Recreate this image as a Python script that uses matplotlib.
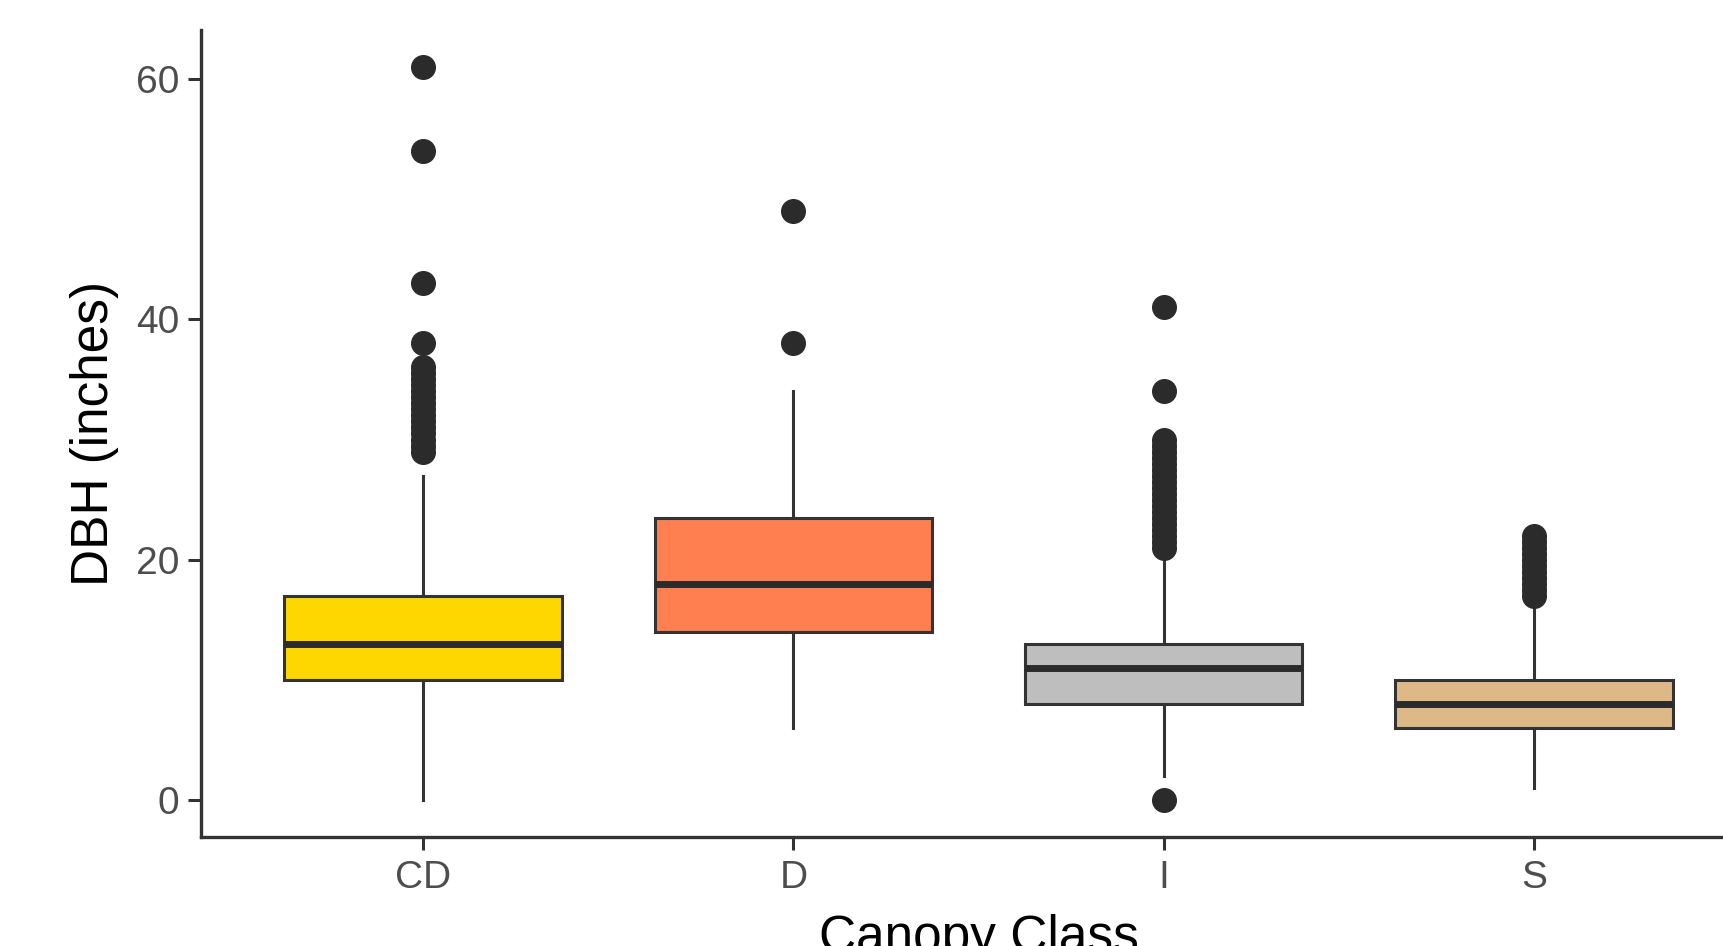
import numpy as np
import matplotlib
matplotlib.use("Agg")
import matplotlib.pyplot as plt

plt.rcParams['font.family'] = ['Liberation Sans', 'DejaVu Sans']

categories = ["CD", "D", "I", "S"]
fill_colors = ["#FFD700", "#FF7F50", "#BEBEBE", "#DEB887"]
whisker_low = [0, 6, 2, 1]
q1 = [10, 14, 8, 6]
median = [13, 18, 11, 8]
q3 = [17, 23.5, 13, 10]
whisker_high = [27, 34, 20, 16]
outliers_cd = [61, 54, 43, 38, 36, 35.5, 35, 34.5, 34, 33.5, 33, 32.5, 32, 31.5,
               31, 30.5, 30, 29.5, 29]
outliers_d = [49, 38]
outliers_i = [41, 34, 30, 29.5, 29, 28.5, 28, 27.5, 27, 26.5, 26, 25.5, 25, 24.5,
              24, 23.5, 23, 22.5, 22, 21.5, 21, 0]
outliers_s = [22, 21.5, 21, 20.5, 20, 19.5, 19, 18.5, 18, 17.5, 17]
outliers = [outliers_cd, outliers_d, outliers_i, outliers_s]
y_ticks = [0, 20, 40, 60]

W, H = 1723, 946
fig = plt.figure(figsize=(W / 100, H / 100), dpi=100)
# axes: left at x=201px, bottom line at y=837px, top at y=30px, right beyond the image
left = 201 / W
bottom = (H - 837) / H
height = (837 - 30) / H
width = 1555 / W
ax = fig.add_axes([left, bottom, width, height])

stats = []
for i, c in enumerate(categories):
    stats.append(dict(med=median[i], q1=q1[i], q3=q3[i], whislo=whisker_low[i],
                      whishi=whisker_high[i], fliers=np.array(outliers[i]), label=c))

edge = "#333333"
bp = ax.bxp(stats, positions=np.arange(1, 5), widths=0.75, patch_artist=True,
            showcaps=False,
            boxprops=dict(edgecolor=edge, linewidth=2.2),
            whiskerprops=dict(color=edge, linewidth=2.2),
            medianprops=dict(color="#2b2b2b", linewidth=5.0, solid_capstyle='butt'),
            flierprops=dict(marker='o', markersize=17, markerfacecolor="#2b2b2b",
                            markeredgecolor="#2b2b2b", linestyle='none'))
for patch, col in zip(bp['boxes'], fill_colors):
    patch.set_facecolor(col)
for w in bp['whiskers']:
    w.set_zorder(1)

ax.set_xlim(0.4, 4.6)
ax.set_ylim(-3.05, 64.05)
ax.set_yticks(y_ticks)
ax.set_yticklabels([str(t) for t in y_ticks])
ax.set_xticks(np.arange(1, 5))
ax.set_xticklabels(categories)

for s in ['top', 'right']:
    ax.spines[s].set_visible(False)
for s in ['left', 'bottom']:
    ax.spines[s].set_color(edge)
    ax.spines[s].set_linewidth(2.4)

ax.tick_params(axis='both', colors=edge, length=9.5, width=2.2, labelsize=28,
               labelcolor="#4D4D4D", pad=6)
ax.tick_params(axis='x', pad=7)

ax.set_ylabel("DBH (inches)", fontsize=37, color="black", labelpad=12)
ax.set_xlabel("Canopy Class", fontsize=37, color="black", labelpad=13)
# x label centred on the visible panel centre (ggplot panel, partly cropped)
ax.xaxis.label.set_position((((793 + 1164) / 2 - 201) / 1555, 0))

fig.savefig("out.png", dpi=100, facecolor="white")
